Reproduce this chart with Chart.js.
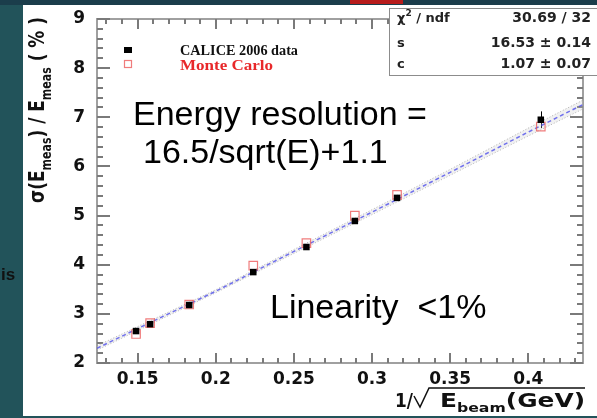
<!DOCTYPE html>
<html>
<head>
<meta charset="utf-8">
<script src="https://cdn.jsdelivr.net/npm/chart.js@4.4.0/dist/chart.umd.min.js"></script>
<style>
  html, body { margin: 0; padding: 0; width: 597px; height: 418px; overflow: hidden; background: #22535a; }
  #c { position: absolute; left: 0; top: 0; }
</style>
</head>
<body>
<canvas id="c" width="597" height="418"></canvas>
<script>
// beam points, x = 1/sqrt(E_beam)
const beamX = [0.149, 0.158, 0.183, 0.224, 0.258, 0.289, 0.316, 0.408];
const dataY = [2.65, 2.79, 3.18, 3.85, 4.36, 4.89, 5.36, 6.95];
const dataErr = [0.03, 0.03, 0.03, 0.04, 0.05, 0.05, 0.06, 0.17];
const mcY = [2.59, 2.81, 3.19, 3.98, 4.44, 5.00, 5.42, 6.81];

// fit curve and its error band
const fitX = [0.124, 0.15, 0.2, 0.25, 0.3, 0.35, 0.4, 0.435];
const fitY = [2.30, 2.70, 3.46, 4.27, 5.07, 5.88, 6.70, 7.26];
const bandHi = [2.35, 2.74, 3.49, 4.31, 5.12, 5.94, 6.78, 7.35];
const bandLo = [2.26, 2.66, 3.43, 4.23, 5.02, 5.82, 6.62, 7.17];

const xTicks = [0.15, 0.2, 0.25, 0.3, 0.35, 0.4];
const yTicks = [2, 3, 4, 5, 6, 7, 8, 9];

const statRows = [['χ', ' / ndf', '30.69 / 32'], ['s', '', '16.53 ± 0.14'], ['c', '', '1.07 ± 0.07']];

const pts = ys => beamX.map((x, i) => ({ x: x, y: ys[i] }));
const curve = ys => fitX.map((x, i) => ({ x: x, y: ys[i] }));

const FRAME = '#7a7a7a';
const ROOTFONT = '"DejaVu Sans"';

// draw pieces of text one after another, squeezed/stretched to a given length
function drawRuns(ctx, parts, x0, y0, len, angle, sy, color) {
  ctx.save();
  let w = 0;
  parts.forEach(p => {
    ctx.font = 'bold ' + p.s + 'px ' + (p.f || ROOTFONT);
    w += ctx.measureText(p.t).width;
  });
  ctx.translate(x0, y0);
  ctx.rotate(angle);
  ctx.scale(len / w, sy);
  ctx.fillStyle = color;
  ctx.textAlign = 'left';
  ctx.textBaseline = 'alphabetic';
  let x = 0;
  parts.forEach(p => {
    ctx.font = 'bold ' + p.s + 'px ' + (p.f || ROOTFONT);
    ctx.fillText(p.t, x, p.dy || 0);
    x += ctx.measureText(p.t).width;
  });
  ctx.restore();
}

const backdrop = {
  id: 'backdrop',
  beforeDraw(chart) {
    const ctx = chart.ctx;
    ctx.save();
    ctx.fillStyle = '#22535a';
    ctx.fillRect(0, 0, 597, 418);
    ctx.fillStyle = '#1b3d4b';
    ctx.fillRect(0, 0, 597, 5);
    ctx.fillStyle = '#b71c1c';
    ctx.fillRect(350, 0, 53, 4);
    ctx.fillStyle = '#ffffff';
    ctx.fillRect(23, 5, 574, 411);
    // slide text peeking out on the left
    ctx.fillStyle = '#111';
    ctx.font = 'bold 17px "Liberation Sans"';
    ctx.fillText('is', 1, 280);
    ctx.restore();
  }
};

const frame = {
  id: 'frame',
  beforeDatasetsDraw(chart) {
    const { ctx, chartArea: a, scales } = chart;
    const xs = scales.x, ys = scales.y;
    ctx.save();
    ctx.strokeStyle = '#a0a0a0';
    ctx.lineWidth = 2;
    ctx.strokeRect(a.left, a.top, a.right - a.left, a.bottom - a.top);
    ctx.strokeStyle = FRAME;
    ctx.lineWidth = 2;
    ctx.beginPath();
    for (let k = 13; k <= 43; k++) {
      const v = k / 100;
      const major = k % 5 === 0;
      const px = Math.round(xs.getPixelForValue(v));
      const len = major ? 10 : 5;
      ctx.moveTo(px, a.bottom); ctx.lineTo(px, a.bottom - len);
      ctx.moveTo(px, a.top); ctx.lineTo(px, a.top + len);
    }
    for (let k = 0; k <= 35; k++) {
      const v = 2 + k * 0.2;
      const major = k % 5 === 0;
      const py = Math.round(ys.getPixelForValue(v));
      const len = major ? 13 : 6;
      ctx.moveTo(a.left, py); ctx.lineTo(a.left + len, py);
      ctx.moveTo(a.right, py); ctx.lineTo(a.right - len, py);
    }
    ctx.stroke();
    // error bars of the data
    ctx.strokeStyle = '#000';
    ctx.lineWidth = 1;
    ctx.beginPath();
    beamX.forEach((x, i) => {
      const px = Math.round(xs.getPixelForValue(x)) + 0.5;
      ctx.moveTo(px, ys.getPixelForValue(dataY[i] - dataErr[i]));
      ctx.lineTo(px, ys.getPixelForValue(dataY[i] + dataErr[i]));
    });
    ctx.stroke();
    ctx.restore();
  }
};

const labels = {
  id: 'labels',
  afterDraw(chart) {
    const ctx = chart.ctx;
    ctx.save();
    // slide annotations
    ctx.fillStyle = '#000';
    ctx.font = '34px "Liberation Sans"';
    ctx.textAlign = 'left';
    ctx.fillText('Energy resolution =', 133, 125);
    ctx.fillText('16.5/sqrt(E)+1.1', 143, 163);
    ctx.fillText('Linearity  <1%', 270, 318);

    // legend
    ctx.fillStyle = '#000';
    ctx.fillRect(124, 47, 8, 6);
    ctx.strokeStyle = 'rgba(235,80,80,0.75)';
    ctx.lineWidth = 1.2;
    ctx.strokeRect(124.5, 60.5, 7, 7);
    drawRuns(ctx, [{ t: 'CALICE 2006 data', s: 14, f: '"Liberation Serif"' }], 180, 55, 118, 0, 1, '#111');
    drawRuns(ctx, [{ t: 'Monte Carlo', s: 14, f: '"Liberation Serif"' }], 180, 70, 93, 0, 1, '#e8282a');

    // stat box
    ctx.fillStyle = '#fff';
    ctx.fillRect(389, 8, 215, 67);
    ctx.strokeStyle = '#8c8c8c';
    ctx.lineWidth = 1;
    ctx.strokeRect(389.5, 8.5, 215, 67);
    ctx.fillStyle = '#222';
    const rowY = [22, 47, 68];
    statRows.forEach((r, i) => {
      ctx.font = 'bold 13px ' + ROOTFONT;
      ctx.textAlign = 'left';
      ctx.fillText(r[0], 397, rowY[i]);
      let w = ctx.measureText(r[0]).width;
      if (i === 0) {
        ctx.font = 'bold 9px ' + ROOTFONT;
        ctx.fillText('2', 397 + w, rowY[i] - 6);
        w += ctx.measureText('2').width;
        ctx.font = 'bold 13px ' + ROOTFONT;
        ctx.fillText(r[1], 397 + w, rowY[i]);
      }
      ctx.font = 'bold 14px ' + ROOTFONT;
      ctx.textAlign = 'right';
      ctx.fillText(r[2], 591, rowY[i]);
    });

    // y title, rotated
    drawRuns(ctx, [
      { t: 'σ(E', s: 17 },
      { t: 'meas', s: 11, dy: 6 },
      { t: ') / E', s: 17 },
      { t: 'meas', s: 11, dy: 6 },
      { t: ' ( % )', s: 17 }
    ], 44, 203, 186, -Math.PI / 2, 1.2, '#111');

    // x title with root sign
    drawRuns(ctx, [{ t: '1/', s: 18 }], 395, 407, 18, 0, 1.1, '#111');
    ctx.strokeStyle = '#111';
    ctx.lineWidth = 1.5;
    ctx.beginPath();
    ctx.moveTo(414, 396);
    ctx.lineTo(420, 407);
    ctx.lineTo(429, 388);
    ctx.lineTo(585, 388);
    ctx.stroke();
    drawRuns(ctx, [
      { t: 'E', s: 19 },
      { t: 'beam', s: 12, dy: 5 },
      { t: '(GeV)', s: 19 }
    ], 440, 407, 145, 0, 1.05, '#111');
    ctx.restore();
  }
};

new Chart(document.getElementById('c').getContext('2d'), {
  type: 'scatter',
  data: {
    datasets: [
      {
        label: 'CALICE 2006 data',
        data: pts(dataY),
        pointStyle: 'rect',
        pointRadius: 4.6,
        backgroundColor: '#000',
        borderColor: '#000',
        borderWidth: 0,
        order: 0
      },
      {
        label: 'Monte Carlo',
        data: pts(mcY),
        pointStyle: 'rect',
        pointRadius: 6,
        backgroundColor: 'rgba(0,0,0,0)',
        borderColor: 'rgba(235,80,80,0.75)',
        borderWidth: 1.2,
        order: 1
      },
      {
        label: 'fit',
        data: curve(fitY),
        showLine: true,
        pointRadius: 0,
        borderColor: 'rgba(80,80,235,0.8)',
        borderDash: [4, 3],
        borderWidth: 1.5,
        order: 2
      },
      {
        label: 'band up',
        data: curve(bandHi),
        showLine: true,
        pointRadius: 0,
        borderColor: 'rgba(150,150,150,0.7)',
        borderDash: [1, 2],
        borderWidth: 1,
        fill: '+1',
        backgroundColor: 'rgba(200,200,200,0.25)',
        order: 3
      },
      {
        label: 'band down',
        data: curve(bandLo),
        showLine: true,
        pointRadius: 0,
        borderColor: 'rgba(150,150,150,0.7)',
        borderDash: [1, 2],
        borderWidth: 1,
        order: 4
      }
    ]
  },
  options: {
    responsive: false,
    animation: false,
    layout: { padding: { left: 0, right: 14, top: 19, bottom: 0 } },
    plugins: { legend: { display: false }, tooltip: { enabled: false } },
    scales: {
      x: {
        type: 'linear',
        min: 0.124,
        max: 0.435,
        afterBuildTicks: s => { s.ticks = xTicks.map(v => ({ value: v })); },
        afterFit: s => { s.height = 55; },
        grid: { display: false },
        border: { display: false },
        ticks: {
          autoSkip: false,
          maxRotation: 0,
          padding: 0,
          color: '#111',
          font: { family: 'DejaVu Sans', weight: 'bold', size: 17, lineHeight: 1 },
          callback: v => String(v)
        }
      },
      y: {
        type: 'linear',
        min: 2,
        max: 9,
        afterBuildTicks: s => { s.ticks = yTicks.map(v => ({ value: v })); },
        afterFit: s => { s.width = 97; },
        grid: { display: false },
        border: { display: false },
        ticks: {
          padding: 4,
          color: '#111',
          font: { family: 'DejaVu Sans', weight: 'bold', size: 17 },
          callback: v => String(v)
        }
      }
    }
  },
  plugins: [backdrop, frame, labels]
});
</script>
</body>
</html>
